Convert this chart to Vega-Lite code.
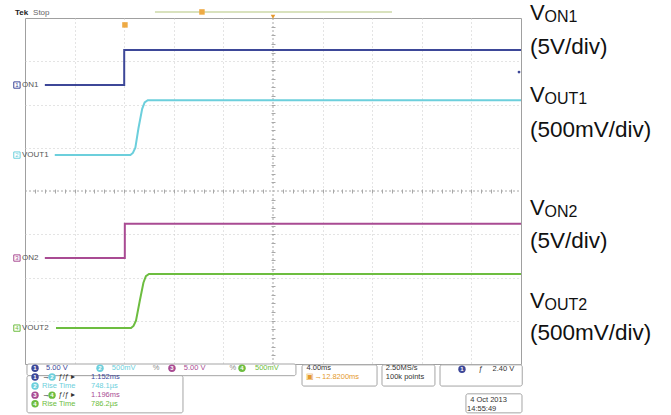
{
  "$schema": "https://vega.github.io/schema/vega-lite/v6.json",
  "width": 496,
  "height": 346,
  "autosize": {"type": "none"},
  "padding": {"left": 25, "top": 18, "right": 150, "bottom": 51},
  "background": "white",
  "config": {
    "view": {"stroke": "#a0a0a0", "strokeWidth": 1},
    "text": {"font": "Liberation Sans"}
  },
  "datasets": {
    "traces": [
      {"ch": "CH1", "i": 0, "t": -18.4, "v": 2.45},
      {"ch": "CH1", "i": 1, "t": -12.0, "v": 2.45},
      {"ch": "CH1", "i": 2, "t": -12.0, "v": 3.26},
      {"ch": "CH1", "i": 3, "t": 20, "v": 3.26},
      {"ch": "CH2", "i": 0, "t": -17.6, "v": 0.83},
      {"ch": "CH2", "i": 1, "t": -11.5, "v": 0.83},
      {"ch": "CH2", "i": 2, "t": -11.3, "v": 0.88},
      {"ch": "CH2", "i": 3, "t": -11.1, "v": 1.0},
      {"ch": "CH2", "i": 4, "t": -10.85, "v": 1.45},
      {"ch": "CH2", "i": 5, "t": -10.55, "v": 1.9},
      {"ch": "CH2", "i": 6, "t": -10.35, "v": 2.05},
      {"ch": "CH2", "i": 7, "t": -10.1, "v": 2.1},
      {"ch": "CH2", "i": 8, "t": 20, "v": 2.1},
      {"ch": "CH3", "i": 0, "t": -18.4, "v": -1.55},
      {"ch": "CH3", "i": 1, "t": -11.95, "v": -1.55},
      {"ch": "CH3", "i": 2, "t": -11.95, "v": -0.76},
      {"ch": "CH3", "i": 3, "t": 20, "v": -0.76},
      {"ch": "CH4", "i": 0, "t": -17.5, "v": -3.17},
      {"ch": "CH4", "i": 1, "t": -11.45, "v": -3.17},
      {"ch": "CH4", "i": 2, "t": -11.25, "v": -3.12},
      {"ch": "CH4", "i": 3, "t": -11.05, "v": -3.0},
      {"ch": "CH4", "i": 4, "t": -10.75, "v": -2.55},
      {"ch": "CH4", "i": 5, "t": -10.45, "v": -2.12},
      {"ch": "CH4", "i": 6, "t": -10.25, "v": -1.97},
      {"ch": "CH4", "i": 7, "t": -10.0, "v": -1.92},
      {"ch": "CH4", "i": 8, "t": 20, "v": -1.92}
    ],
    "leftLabels": [
      {"ch": "CH1", "num": "1", "name": "ON1", "t": -20.65, "v": 2.45},
      {"ch": "CH2", "num": "2", "name": "VOUT1", "t": -20.65, "v": 0.83},
      {"ch": "CH3", "num": "3", "name": "ON2", "t": -20.65, "v": -1.55},
      {"ch": "CH4", "num": "4", "name": "VOUT2", "t": -20.65, "v": -3.17}
    ],
    "voltNames": [
      {"main": "V", "sub": "ON1", "t": 20.73, "v": 4.12},
      {"main": "V", "sub": "OUT1", "t": 20.73, "v": 2.22},
      {"main": "V", "sub": "ON2", "t": 20.73, "v": -0.4},
      {"main": "V", "sub": "OUT2", "t": 20.73, "v": -2.54}
    ],
    "scales": [
      {"txt": "(5V/div)", "t": 20.73, "v": 3.33},
      {"txt": "(500mV/div)", "t": 20.73, "v": 1.41},
      {"txt": "(5V/div)", "t": 20.73, "v": -1.16},
      {"txt": "(500mV/div)", "t": 20.73, "v": -3.28}
    ],
    "boxes": [
      {"t": -19.84, "t2": 1.85, "v": -4.0, "v2": -4.27},
      {"t": -19.84, "t2": -7.26, "v": -4.27, "v2": -5.13},
      {"t": 2.34, "t2": 8.39, "v": -4.02, "v2": -4.51},
      {"t": 8.79, "t2": 13.06, "v": -4.02, "v2": -4.51},
      {"t": 13.47, "t2": 20.1, "v": -4.02, "v2": -4.51},
      {"t": 15.56, "t2": 20.08, "v": -4.69, "v2": -5.13}
    ],
    "badges": [
      {"ch": "CH1", "num": "1", "t": -19.19, "v": -4.1},
      {"ch": "CH2", "num": "2", "t": -13.95, "v": -4.1},
      {"ch": "CH3", "num": "3", "t": -8.15, "v": -4.1},
      {"ch": "CH4", "num": "4", "t": -2.5, "v": -4.1},
      {"ch": "CH1", "num": "1", "t": 15.24, "v": -4.12},
      {"ch": "CH1", "num": "1", "t": -19.19, "v": -4.3},
      {"ch": "CH2", "num": "2", "t": -17.82, "v": -4.3},
      {"ch": "CH2", "num": "2", "t": -19.19, "v": -4.51},
      {"ch": "CH3", "num": "3", "t": -19.19, "v": -4.72},
      {"ch": "CH4", "num": "4", "t": -17.82, "v": -4.72},
      {"ch": "CH4", "num": "4", "t": -19.19, "v": -4.92}
    ],
    "status": [
      {"txt": "5.00 V", "c": "CH1", "t": -18.3, "v": -4.1},
      {"txt": "500mV", "c": "CH2", "t": -13.0, "v": -4.1},
      {"txt": "%", "c": "gray", "t": -9.7, "v": -4.1},
      {"txt": "5.00 V", "c": "CH3", "t": -7.2, "v": -4.1},
      {"txt": "%", "c": "gray", "t": -3.5, "v": -4.1},
      {"txt": "500mV", "c": "CH4", "t": -1.45, "v": -4.1},
      {"txt": "4.00ms", "c": "dark", "t": 2.7, "v": -4.1},
      {"txt": "▣→12.8200ms", "c": "orange", "t": 2.7, "v": -4.3},
      {"txt": "2.50MS/s", "c": "dark", "t": 9.1, "v": -4.1},
      {"txt": "100k points", "c": "dark", "t": 9.1, "v": -4.3},
      {"txt": "ƒ", "c": "dark", "t": 16.6, "v": -4.12},
      {"txt": "2.40 V", "c": "dark", "t": 17.7, "v": -4.12},
      {"txt": "→", "c": "dark", "t": -18.6, "v": -4.3},
      {"txt": "ƒ/ƒ ▸", "c": "dark", "t": -17.3, "v": -4.3},
      {"txt": "1.152ms", "c": "CH1", "t": -14.68, "v": -4.3},
      {"txt": "Rise Time", "c": "CH2", "t": -18.63, "v": -4.51},
      {"txt": "748.1µs", "c": "CH2", "t": -14.68, "v": -4.51},
      {"txt": "→", "c": "dark", "t": -18.6, "v": -4.72},
      {"txt": "ƒ/ƒ ▸", "c": "dark", "t": -17.3, "v": -4.72},
      {"txt": "1.196ms", "c": "CH3", "t": -14.68, "v": -4.72},
      {"txt": "Rise Time", "c": "CH4", "t": -18.63, "v": -4.92},
      {"txt": "786.2µs", "c": "CH4", "t": -14.68, "v": -4.92},
      {"txt": "4 Oct 2013", "c": "dark", "t": 15.9, "v": -4.83},
      {"txt": "14:55:49", "c": "dark", "t": 15.65, "v": -5.04}
    ]
  },
  "resolve": {"axis": {"x": "independent", "y": "independent"}},
  "encoding": {
    "x": {"field": "t", "type": "quantitative", "scale": {"domain": [-20, 20], "nice": false, "zero": false}, "axis": null},
    "y": {"field": "v", "type": "quantitative", "scale": {"domain": [-4, 4], "nice": false, "zero": false}, "axis": null}
  },
  "layer": [
    {
      "data": {"values": [{"t": -20, "t2": 20, "v": 0}]},
      "mark": {"type": "rule", "color": "#a8a8a8", "strokeDash": [2, 2]},
      "encoding": {
        "x": {"field": "t", "type": "quantitative", "scale": {"domain": [-20, 20], "nice": false, "zero": false},
          "axis": {"orient": "bottom", "offset": -175, "values": [-19.2,-18.4,-17.6,-16.8,-16,-15.2,-14.4,-13.6,-12.8,-12,-11.2,-10.4,-9.6,-8.8,-8,-7.2,-6.4,-5.6,-4.8,-4,-3.2,-2.4,-1.6,-0.8,0.8,1.6,2.4,3.2,4,4.8,5.6,6.4,7.2,8,8.8,9.6,10.4,11.2,12,12.8,13.6,14.4,15.2,16,16.8,17.6,18.4,19.2],
            "ticks": true, "tickSize": 4, "tickColor": "#a8a8a8", "labels": false, "domain": false, "grid": false, "title": null}},
        "x2": {"field": "t2"}
      }
    },
    {
      "data": {"values": [{"t": 0, "v": -4, "v2": 4}]},
      "mark": {"type": "rule", "color": "#a8a8a8", "strokeDash": [2, 2]},
      "encoding": {
        "y": {"field": "v", "type": "quantitative", "scale": {"domain": [-4, 4], "nice": false, "zero": false},
          "axis": {"orient": "left", "offset": -250, "values": [-3.8,-3.6,-3.4,-3.2,-3,-2.8,-2.6,-2.4,-2.2,-2,-1.8,-1.6,-1.4,-1.2,-1,-0.8,-0.6,-0.4,-0.2,0.2,0.4,0.6,0.8,1,1.2,1.4,1.6,1.8,2,2.2,2.4,2.6,2.8,3,3.2,3.4,3.6,3.8],
            "ticks": true, "tickSize": 4, "tickColor": "#a8a8a8", "labels": false, "domain": false, "grid": false, "title": null}},
        "y2": {"field": "v2"}
      }
    },
    {
      "data": {"name": "traces"},
      "mark": {"type": "line", "strokeWidth": 2},
      "encoding": {
        "x": {"field": "t", "type": "quantitative", "scale": {"domain": [-20, 20], "nice": false, "zero": false},
          "axis": {"orient": "bottom", "values": [-16, -12, -8, -4, 4, 8, 12, 16], "grid": true, "gridColor": "#c8c8c8", "gridDash": [1, 3], "labels": false, "ticks": false, "domain": false, "title": null}},
        "y": {"field": "v", "type": "quantitative", "scale": {"domain": [-4, 4], "nice": false, "zero": false},
          "axis": {"orient": "left", "values": [-3, -2, -1, 1, 2, 3], "grid": true, "gridColor": "#c8c8c8", "gridDash": [1, 3], "labels": false, "ticks": false, "domain": false, "title": null}},
        "color": {"field": "ch", "type": "nominal", "legend": null,
          "scale": {"domain": ["CH1", "CH2", "CH3", "CH4", "dark", "gray", "orange"], "range": ["#3d4798", "#6ccfdc", "#a94b93", "#6dbd40", "#333333", "#8a8a8a", "#e59a2c"]}},
        "order": {"field": "i"}
      }
    },
    {
      "data": {"name": "leftLabels"},
      "mark": {"type": "square", "size": 40, "filled": false, "strokeWidth": 1, "fill": "white", "fillOpacity": 1},
      "encoding": {
        "stroke": {"field": "ch", "type": "nominal", "legend": null,
          "scale": {"domain": ["CH1", "CH2", "CH3", "CH4", "dark", "gray", "orange"], "range": ["#3d4798", "#6ccfdc", "#a94b93", "#6dbd40", "#333333", "#8a8a8a", "#e59a2c"]}}
      }
    },
    {
      "data": {"name": "leftLabels"},
      "mark": {"type": "text", "fontSize": 6, "baseline": "middle", "align": "center"},
      "encoding": {
        "text": {"field": "num"},
        "color": {"field": "ch", "type": "nominal", "legend": null,
          "scale": {"domain": ["CH1", "CH2", "CH3", "CH4", "dark", "gray", "orange"], "range": ["#3d4798", "#6ccfdc", "#a94b93", "#6dbd40", "#333333", "#8a8a8a", "#e59a2c"]}}
      }
    },
    {
      "data": {"name": "leftLabels"},
      "mark": {"type": "text", "fontSize": 8, "baseline": "middle", "align": "left", "dx": 5, "color": "#555555"},
      "encoding": {"text": {"field": "name"}}
    },
    {
      "data": {"values": [{"txt": "Tek", "t": -20.81, "v": 4.12}]},
      "mark": {"type": "text", "fontSize": 8, "fontWeight": "bold", "baseline": "middle", "align": "left", "color": "#222222"},
      "encoding": {"text": {"field": "txt"}}
    },
    {
      "data": {"values": [{"txt": "Stop", "t": -19.35, "v": 4.12}]},
      "mark": {"type": "text", "fontSize": 8, "baseline": "middle", "align": "left", "color": "#666666"},
      "encoding": {"text": {"field": "txt"}}
    },
    {
      "data": {"values": [{"t": -9.52, "t2": 9.6, "v": 4.14}]},
      "mark": {"type": "rule", "color": "#cdd9a8", "strokeWidth": 1.5},
      "encoding": {"x2": {"field": "t2"}}
    },
    {
      "data": {"values": [{"t": -5.73, "v": 4.14}, {"t": -11.94, "v": 3.84}]},
      "mark": {"type": "square", "size": 30, "filled": true, "color": "#eeaa44", "opacity": 1},
      "encoding": {}
    },
    {
      "data": {"values": [{"t": 0, "v": 4.03}]},
      "mark": {"type": "point", "shape": "triangle-down", "size": 20, "filled": true, "color": "#e59a2c", "opacity": 1},
      "encoding": {}
    },
    {
      "data": {"values": [{"t": 19.84, "v": 2.75}]},
      "mark": {"type": "point", "shape": "circle", "size": 8, "filled": true, "color": "#3d4798", "opacity": 1},
      "encoding": {}
    },
    {
      "data": {"name": "voltNames"},
      "mark": {"type": "text", "fontSize": 22, "baseline": "middle", "align": "left", "color": "#111111"},
      "encoding": {"text": {"field": "main"}}
    },
    {
      "data": {"name": "voltNames"},
      "mark": {"type": "text", "fontSize": 16, "baseline": "middle", "align": "left", "dx": 14.5, "dy": 4, "color": "#111111"},
      "encoding": {"text": {"field": "sub"}}
    },
    {
      "data": {"name": "scales"},
      "mark": {"type": "text", "fontSize": 22.5, "baseline": "middle", "align": "left", "color": "#111111"},
      "encoding": {"text": {"field": "txt"}}
    },
    {
      "data": {"name": "boxes"},
      "mark": {"type": "rect", "fill": "white", "stroke": "#a5a5a5", "strokeWidth": 1, "cornerRadius": 2},
      "encoding": {"x2": {"field": "t2"}, "y2": {"field": "v2"}}
    },
    {
      "data": {"name": "badges"},
      "mark": {"type": "circle", "size": 55, "opacity": 1},
      "encoding": {
        "color": {"field": "ch", "type": "nominal", "legend": null,
          "scale": {"domain": ["CH1", "CH2", "CH3", "CH4", "dark", "gray", "orange"], "range": ["#3d4798", "#6ccfdc", "#a94b93", "#6dbd40", "#333333", "#8a8a8a", "#e59a2c"]}}
      }
    },
    {
      "data": {"name": "badges"},
      "mark": {"type": "text", "fontSize": 6, "fontWeight": "bold", "baseline": "middle", "align": "center", "color": "white"},
      "encoding": {"text": {"field": "num"}}
    },
    {
      "data": {"name": "status"},
      "mark": {"type": "text", "fontSize": 7.5, "baseline": "middle", "align": "left"},
      "encoding": {
        "text": {"field": "txt"},
        "color": {"field": "c", "type": "nominal", "legend": null,
          "scale": {"domain": ["CH1", "CH2", "CH3", "CH4", "dark", "gray", "orange"], "range": ["#3d4798", "#3fb3cc", "#9a3a8c", "#4aa33a", "#333333", "#8a8a8a", "#e59a2c"]}}
      }
    }
  ]
}
